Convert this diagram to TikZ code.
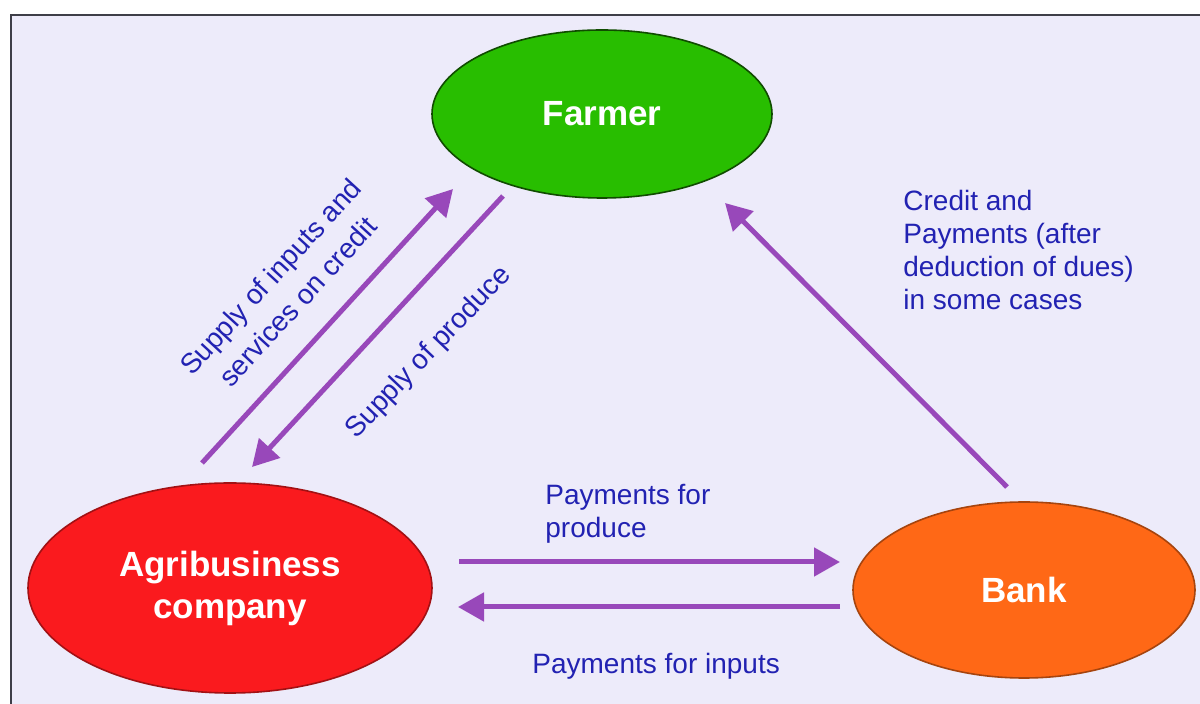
\documentclass[tikz,border=0pt]{standalone}
\usepackage{fontspec}
\setmainfont{Liberation Sans}
\usetikzlibrary{arrows.meta, shapes.geometric}

\definecolor{flowpurple}{RGB}{152,72,186}
\definecolor{labelblue}{RGB}{34,34,178}
\definecolor{farmgreen}{RGB}{40,190,0}
\definecolor{agrired}{RGB}{250,26,30}
\definecolor{bankorange}{RGB}{255,104,22}
\definecolor{framegray}{RGB}{62,62,72}
\definecolor{panelside}{RGB}{237,235,250}
\definecolor{panelmid}{RGB}{247,246,253}

\begin{document}
\begin{tikzpicture}[x=0.5pt, y=-0.5pt,
  party/.style = {ellipse, draw, line width=0.8pt, inner sep=0pt, text=white, align=center,
    font=\fontsize{17.5}{21}\selectfont\bfseries},
  flowlabel/.style = {inner sep=0pt, text=labelblue, font=\fontsize{14}{16.5}\selectfont},
  arrow/.style = {-{Triangle[length=13pt, width=14pt]}, line width=2.5pt, draw=flowpurple}
]
\useasboundingbox (0,0) rectangle (1200,704);
% panel
\shade[left color=panelside, middle color=panelmid, right color=panelside]
  (11,15) rectangle (1215,720);
\draw[line width=1pt, framegray] (11,15) rectangle (1215,720);

% parties
\node[party, fill=farmgreen, draw=farmgreen!40!black, minimum width=170pt, minimum height=84pt] (farmer) at (602,114) {Farmer};
\node[party, fill=agrired, draw=agrired!65!black, minimum width=202pt, minimum height=105pt] (agri) at (230,588) {Agribusiness\\company};
\node[party, fill=bankorange, draw=bankorange!65!black, minimum width=171pt, minimum height=88pt] (bank) at (1024,590) {Bank};

% arrow ends
\coordinate (inputs_from) at (202,463);
\coordinate (inputs_to) at (453,189);
\coordinate (produce_from) at (503,196);
\coordinate (produce_to) at (252,467);
\coordinate (credit_from) at (1007,487);
\coordinate (credit_to) at (725,203);
\coordinate (pay_prod_from) at (459,562);
\coordinate (pay_prod_to) at (840,562);
\coordinate (pay_in_from) at (840,607);
\coordinate (pay_in_to) at (458,607);

\draw[arrow] (inputs_from) -- (inputs_to);
\draw[arrow] (produce_from) -- (produce_to);
\draw[arrow] (credit_from) -- (credit_to);
\draw[arrow] (pay_prod_from) -- (pay_prod_to);
\draw[arrow] (pay_in_from) -- (pay_in_to);

% flow labels
\node[flowlabel, align=center, rotate=47.5, font=\fontsize{14}{18.5}\selectfont] (inputs_lbl) at (284,289) {Supply of inputs and\\services on credit};
\node[flowlabel, rotate=46.5] (produce_lbl) at (429,353) {Supply of produce};
\node[flowlabel, align=left, anchor=north west] (credit_lbl) at (903,190) {Credit and\\Payments (after\\deduction of dues)\\in some cases};
\node[flowlabel, align=left, anchor=north west] (pay_prod_lbl) at (545,484) {Payments for\\produce};
\node[flowlabel, anchor=north west] (pay_in_lbl) at (532,653) {Payments for inputs};
\end{tikzpicture}
\end{document}
